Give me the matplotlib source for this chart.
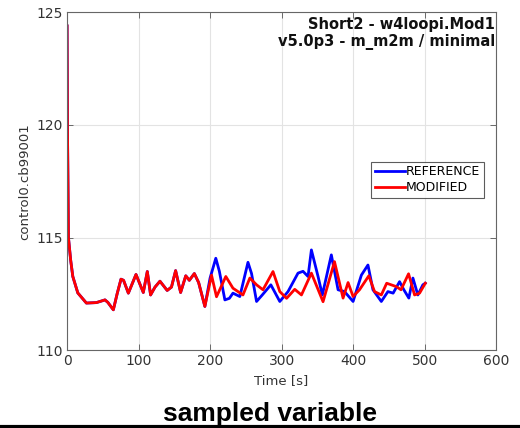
import matplotlib; matplotlib.use("Agg")
import matplotlib.pyplot as plt

plt.rcParams["font.family"] = ["DejaVu Sans"]

# modified run (red)
mod_t = [0, 0.5, 1.9, 5, 8, 15, 27, 41, 53, 57, 64.7, 70, 75.4, 79, 85.7, 96.4,
         106.6, 112.2, 116.8, 123, 129.9, 140, 146, 151.8, 158.8, 166, 171, 178,
         184, 192.7, 202, 209, 222, 232, 246, 255.6, 265, 274, 288, 297.5, 307,
         318.4, 327.8, 341.7, 358, 374, 386, 393, 400, 409, 422, 430, 439.5, 447,
         460.5, 467, 477.6, 486, 493, 501]
mod_v = [124.4, 120.0, 115.0, 114.0, 113.27, 112.54, 112.09, 112.11, 112.23, 112.12,
         111.79, 112.5, 113.15, 113.1, 112.53, 113.36, 112.56, 113.49, 112.45, 112.8,
         113.06, 112.65, 112.8, 113.53, 112.56, 113.3, 113.1, 113.4, 113.0, 111.94,
         113.33, 112.37, 113.27, 112.75, 112.45, 113.2, 112.9, 112.68, 113.49, 112.6,
         112.3, 112.7, 112.45, 113.42, 112.15, 113.93, 112.31, 113.0, 112.38, 112.68,
         113.3, 112.6, 112.45, 112.97, 112.82, 112.68, 113.39, 112.45, 112.53, 112.97]

# reference run (blue): identical to modified until ~195 s
ref_tail_t = [200, 208, 213, 220.7, 227, 232, 241.6, 253, 258, 265, 273, 285, 297.5,
              309, 323, 330, 337, 341.7, 351, 357, 369.6, 379, 388, 400, 411.6, 420.8,
              427.8, 439.5, 448.7, 456, 465, 471, 478, 483.7, 490.6, 497.6, 501]
ref_tail_v = [113.2, 114.08, 113.5, 112.23, 112.3, 112.53, 112.38, 113.9, 113.4, 112.16,
              112.45, 112.9, 112.16, 112.6, 113.42, 113.5, 113.27, 114.45, 113.27, 112.45,
              114.23, 112.68, 112.6, 112.16, 113.33, 113.78, 112.68, 112.16, 112.6, 112.53,
              113.04, 112.68, 112.31, 113.2, 112.45, 112.9, 112.97]
ref_t = mod_t[:30] + ref_tail_t
ref_v = mod_v[:30] + ref_tail_v

fig = plt.figure(figsize=(5.2, 4.28), dpi=100)
ax = fig.add_axes([0.129, 0.182, 0.825, 0.789])

ax.plot(ref_t, ref_v, color="#0000ff", lw=2.0, label="REFERENCE")
ax.plot(mod_t, mod_v, color="#ff0000", lw=2.0, label="MODIFIED")

ax.set_xlim(0, 600); ax.set_ylim(110, 125)
ax.set_xticks(range(0, 601, 100)); ax.set_yticks(range(110, 126, 5))
ax.grid(color="#e3e3e3", lw=0.8)
ax.set_axisbelow(True)
ax.tick_params(direction="in", top=True, right=True, length=4, width=0.6,
               colors="#555555", labelcolor="#333333", labelsize=10, pad=3)
for s in ax.spines.values():
    s.set_color("#666666"); s.set_linewidth(0.8)

ax.set_xlabel("Time [s]", fontsize=9.5, color="#333333", labelpad=4)
ax.set_ylabel("control0.cb99001", fontsize=9.5, color="#333333", labelpad=4)

ax.text(0.997, 0.985, "Short2 - w4loopi.Mod1\nv5.0p3 - m_m2m / minimal",
        transform=ax.transAxes, ha="right", va="top", fontsize=10.5,
        fontweight="bold", color="#111111", linespacing=1.1)

leg = ax.legend(loc="upper left", bbox_to_anchor=(0.709, 0.558), fontsize=9,
                frameon=True, fancybox=False, handlelength=2.4, handletextpad=0.1,
                borderpad=0.3, labelspacing=0.2, borderaxespad=0)
leg.get_frame().set_edgecolor("#333333"); leg.get_frame().set_linewidth(0.8)

fig.text(0.52, 0.032, "sampled variable", ha="center", va="center",
         fontsize=19, fontweight="bold", family="Liberation Sans")
fig.add_artist(plt.Line2D([0, 1], [0.002, 0.002], color="black", lw=3,
                          transform=fig.transFigure))

plt.savefig("out.png", dpi=100)
